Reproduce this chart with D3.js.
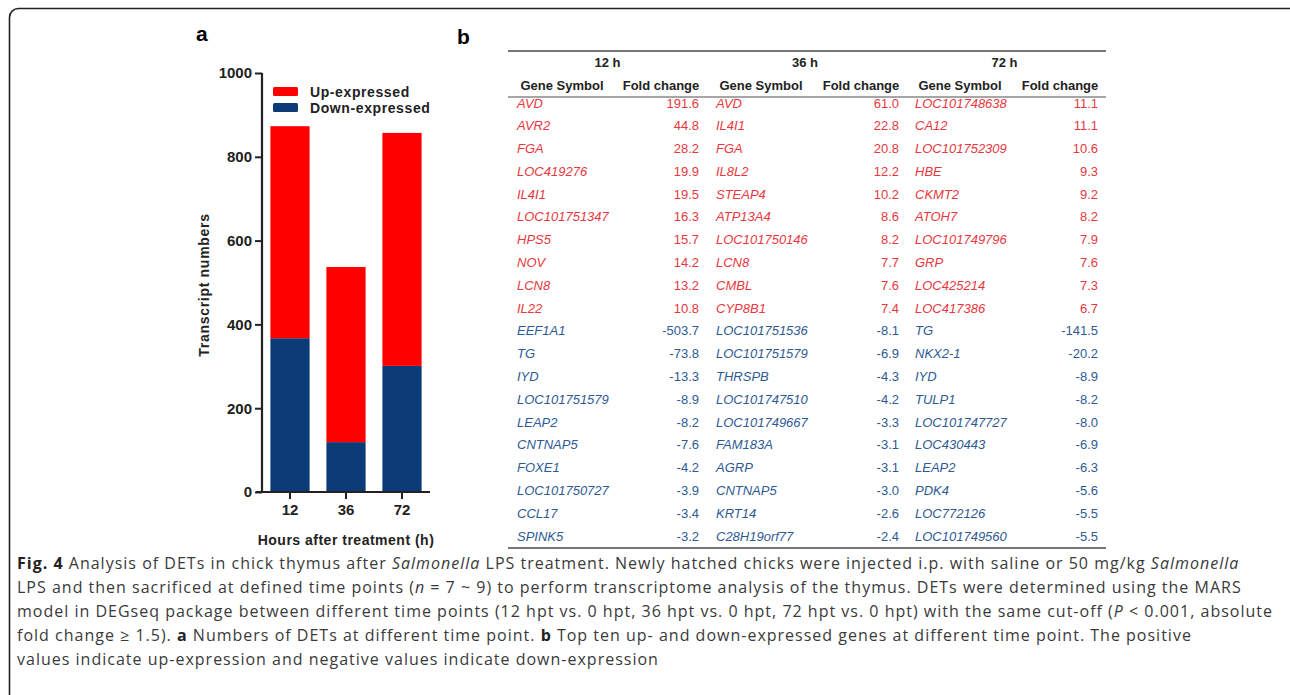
<!DOCTYPE html>
<html>
<head>
<meta charset="utf-8">
<script src="https://cdn.jsdelivr.net/npm/d3@7"></script>
<style>
  body { margin: 0; background: #fff; }
  svg { display: block; }
</style>
</head>
<body>
<script>
// ---- panel a data ----
const hours = ["12", "36", "72"];
const upCounts = [506, 418, 556];
const downCounts = [367, 119, 301];
const yTicks = [0, 200, 400, 600, 800, 1000];

// ---- panel b data ----
const timeLabels = ["12 h", "36 h", "72 h"];
const genes12 = ["AVD", "AVR2", "FGA", "LOC419276", "IL4I1", "LOC101751347", "HPS5", "NOV", "LCN8", "IL22",
  "EEF1A1", "TG", "IYD", "LOC101751579", "LEAP2", "CNTNAP5", "FOXE1", "LOC101750727", "CCL17", "SPINK5"];
const fold12 = [191.6, 44.8, 28.2, 19.9, 19.5, 16.3, 15.7, 14.2, 13.2, 10.8,
  -503.7, -73.8, -13.3, -8.9, -8.2, -7.6, -4.2, -3.9, -3.4, -3.2];
const genes36 = ["AVD", "IL4I1", "FGA", "IL8L2", "STEAP4", "ATP13A4", "LOC101750146", "LCN8", "CMBL", "CYP8B1",
  "LOC101751536", "LOC101751579", "THRSPB", "LOC101747510", "LOC101749667", "FAM183A", "AGRP", "CNTNAP5", "KRT14", "C28H19orf77"];
const fold36 = [61.0, 22.8, 20.8, 12.2, 10.2, 8.6, 8.2, 7.7, 7.6, 7.4,
  -8.1, -6.9, -4.3, -4.2, -3.3, -3.1, -3.1, -3.0, -2.6, -2.4];
const genes72 = ["LOC101748638", "CA12", "LOC101752309", "HBE", "CKMT2", "ATOH7", "LOC101749796", "GRP", "LOC425214", "LOC417386",
  "TG", "NKX2-1", "IYD", "TULP1", "LOC101747727", "LOC430443", "LEAP2", "PDK4", "LOC772126", "LOC101749560"];
const fold72 = [11.1, 11.1, 10.6, 9.3, 9.2, 8.2, 7.9, 7.6, 7.3, 6.7,
  -141.5, -20.2, -8.9, -8.2, -8.0, -6.9, -6.3, -5.6, -5.5, -5.5];

// ---- caption ----
const captionLines = [
  [["b", "Fig. 4"], ["n", " Analysis of DETs in chick thymus after "], ["i", "Salmonella"], ["n", " LPS treatment. Newly hatched chicks were injected i.p. with saline or 50 mg/kg "], ["i", "Salmonella"]],
  [["n", "LPS and then sacrificed at defined time points ("], ["i", "n"], ["n", " = 7 ~ 9) to perform transcriptome analysis of the thymus. DETs were determined using the MARS"]],
  [["n", "model in DEGseq package between different time points (12 hpt vs. 0 hpt, 36 hpt vs. 0 hpt, 72 hpt vs. 0 hpt) with the same cut-off ("], ["i", "P"], ["n", " < 0.001, absolute"]],
  [["n", "fold change ≥ 1.5). "], ["b", "a"], ["n", " Numbers of DETs at different time point. "], ["b", "b"], ["n", " Top ten up- and down-expressed genes at different time point. The positive"]],
  [["n", "values indicate up-expression and negative values indicate down-expression"]]
];

const W = 1290, H = 695;
const svg = d3.select("body").append("svg").attr("width", W).attr("height", H);

// figure frame
svg.append("rect")
  .attr("x", 9.5).attr("y", 8.5)
  .attr("width", 1320).attr("height", 720)
  .attr("rx", 9)
  .attr("fill", "none")
  .attr("stroke", "#222")
  .attr("stroke-width", 1.6);

const armFont = "'Liberation Sans', Arial, sans-serif";
const red = "#ff0000", blue = "#0b3c78";

// ================= panel a =================
const plot = { left: 262, right: 430, top: 73, bottom: 492 };

const y = d3.scaleLinear().domain([0, 1000]).range([plot.bottom, plot.top]);
const x = d3.scaleBand().domain(hours).range([plot.left, plot.right]).paddingInner(0.3).paddingOuter(0.15);

svg.append("text")
  .attr("x", 196).attr("y", 41)
  .attr("font-family", armFont).attr("font-weight", "bold").attr("font-size", 21)
  .text("a");

const stack = hours.map((h, i) => ({ h, down: downCounts[i], up: upCounts[i] }));

const ga = svg.append("g");

ga.selectAll(".down")
  .data(stack)
  .enter()
  .append("rect")
  .attr("x", d => x(d.h))
  .attr("width", x.bandwidth())
  .attr("y", d => y(d.down))
  .attr("height", d => y(0) - y(d.down))
  .attr("fill", blue);

ga.selectAll(".up")
  .data(stack)
  .enter()
  .append("rect")
  .attr("x", d => x(d.h))
  .attr("width", x.bandwidth())
  .attr("y", d => y(d.down + d.up))
  .attr("height", d => y(d.down) - y(d.down + d.up))
  .attr("fill", red);

// y axis
const yAxis = ga.append("g")
  .attr("transform", `translate(${plot.left},0)`)
  .call(d3.axisLeft(y).tickValues(yTicks).tickFormat(d3.format("d")).tickSize(7).tickPadding(3).tickSizeOuter(0));
yAxis.select(".domain").attr("stroke", "#222").attr("stroke-width", 2.2);
yAxis.selectAll(".tick line").attr("stroke", "#222").attr("stroke-width", 2);
yAxis.selectAll("text")
  .attr("font-family", armFont).attr("font-weight", "bold").attr("font-size", 15).attr("fill", "#222");
yAxis.select(".domain").attr("d", `M0,${plot.bottom}V${plot.top}`);

// x axis
const xAxis = ga.append("g")
  .attr("transform", `translate(0,${plot.bottom})`)
  .call(d3.axisBottom(x).tickSize(7).tickPadding(5).tickSizeOuter(0));
xAxis.select(".domain").attr("stroke", "#222").attr("stroke-width", 2.2)
  .attr("d", `M${plot.left - 6},0H${plot.right}`);
xAxis.selectAll(".tick line").attr("stroke", "#222").attr("stroke-width", 2);
xAxis.selectAll("text")
  .attr("font-family", armFont).attr("font-weight", "bold").attr("font-size", 15).attr("fill", "#222");

// axis titles
svg.append("text")
  .attr("transform", "translate(209,285) rotate(-90)")
  .attr("text-anchor", "middle")
  .attr("font-family", armFont).attr("font-weight", "bold").attr("font-size", 14)
  .attr("letter-spacing", 0.7).attr("fill", "#222")
  .text("Transcript numbers");

svg.append("text")
  .attr("x", 346).attr("y", 545)
  .attr("text-anchor", "middle")
  .attr("font-family", armFont).attr("font-weight", "bold").attr("font-size", 14)
  .attr("letter-spacing", 0.5).attr("fill", "#222")
  .text("Hours after treatment (h)");

// legend
const legendItems = [["Up-expressed", red], ["Down-expressed", blue]];
const lg = svg.selectAll(".legend")
  .data(legendItems)
  .enter()
  .append("g")
  .attr("transform", (d, i) => `translate(273,${87 + i * 16})`);
lg.append("rect")
  .attr("width", 25).attr("height", 9).attr("rx", 1.5)
  .attr("fill", d => d[1]);
lg.append("text")
  .attr("x", 37).attr("y", 9.5)
  .attr("font-family", armFont).attr("font-weight", "bold").attr("font-size", 14)
  .attr("letter-spacing", 0.6).attr("fill", "#222")
  .text(d => d[0]);

// ================= panel b =================
svg.append("text")
  .attr("x", 457).attr("y", 44)
  .attr("font-family", armFont).attr("font-weight", "bold").attr("font-size", 21)
  .text("b");

const table = { left: 508, right: 1106, top: 51, headRule: 97, bottom: 548 };
const groups = [
  { label: timeLabels[0], genes: genes12, fold: fold12, geneX: 517, foldX: 699, x0: 508, x1: 707 },
  { label: timeLabels[1], genes: genes36, fold: fold36, geneX: 716, foldX: 899, x0: 707, x1: 903 },
  { label: timeLabels[2], genes: genes72, fold: fold72, geneX: 915, foldX: 1098, x0: 903, x1: 1106 }
];

const rowY = d3.scalePoint().domain(d3.range(20)).range([103, 536]);

const gb = svg.append("g").attr("font-family", armFont);

gb.append("line")
  .attr("x1", table.left).attr("x2", table.right)
  .attr("y1", table.top).attr("y2", table.top)
  .attr("stroke", "#777").attr("stroke-width", 1.8);
gb.append("line")
  .attr("x1", table.left).attr("x2", table.right)
  .attr("y1", table.headRule).attr("y2", table.headRule)
  .attr("stroke", "#888").attr("stroke-width", 1.4);
gb.append("line")
  .attr("x1", table.left).attr("x2", table.right)
  .attr("y1", table.bottom).attr("y2", table.bottom)
  .attr("stroke", "#777").attr("stroke-width", 1.8);

const cols = gb.selectAll(".col")
  .data(groups)
  .enter()
  .append("g");

cols.append("text")
  .attr("x", d => (d.x0 + d.x1) / 2).attr("y", 67)
  .attr("text-anchor", "middle")
  .attr("font-weight", "bold").attr("font-size", 13).attr("fill", "#222")
  .text(d => d.label);

cols.append("text")
  .attr("x", d => d.geneX + 45).attr("y", 90)
  .attr("text-anchor", "middle")
  .attr("font-weight", "bold").attr("font-size", 13).attr("fill", "#222")
  .text("Gene Symbol");

cols.append("text")
  .attr("x", d => d.foldX - 38).attr("y", 90)
  .attr("text-anchor", "middle")
  .attr("font-weight", "bold").attr("font-size", 13).attr("fill", "#222")
  .text("Fold change");

cols.each(function (g) {
  const sel = d3.select(this);
  const rows = g.genes.map((name, i) => ({ name, fc: g.fold[i], i }));
  sel.selectAll(".gene")
    .data(rows)
    .enter()
    .append("text")
    .attr("x", g.geneX)
    .attr("y", d => rowY(d.i) + 4.5)
    .attr("font-style", "italic").attr("font-size", 13)
    .attr("fill", d => d.fc > 0 ? "#e8383d" : "#2e5a94")
    .text(d => d.name);
  sel.selectAll(".fc")
    .data(rows)
    .enter()
    .append("text")
    .attr("x", g.foldX)
    .attr("y", d => rowY(d.i) + 4.5)
    .attr("text-anchor", "end").attr("font-size", 13)
    .attr("fill", d => d.fc > 0 ? "#e8383d" : "#2e5a94")
    .text(d => d.fc.toFixed(1));
});

// ================= caption =================
const cap = svg.append("g")
  .attr("font-family", "'Open Sans', 'Noto Sans', sans-serif")
  .attr("font-size", 16)
  .attr("fill", "#3a3a3a");

const capTexts = captionLines.map((line, li) => {
  const t = cap.append("text")
    .attr("x", 17).attr("y", 569 + li * 24);
  line.forEach(([style, str]) => {
    t.append("tspan")
      .attr("font-weight", style === "b" ? "bold" : null)
      .attr("font-style", style === "i" ? "italic" : null)
      .attr("fill", style === "b" ? "#222" : null)
      .text(str);
  });
  return t;
});

// widen tracking so the longest line (line 3) reaches the right edge like the original
const refText = capTexts[2];
const nChars = refText.text().length;
const natural = refText.node().getComputedTextLength();
const spacing = (1256 - natural) / nChars;
capTexts.forEach(t => t.attr("letter-spacing", spacing));
</script>
</body>
</html>
